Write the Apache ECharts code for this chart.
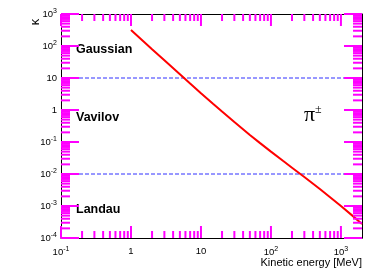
<!DOCTYPE html>
<html><head><meta charset="utf-8">
<script src="https://cdn.jsdelivr.net/npm/echarts@6/dist/echarts.min.js"></script>
<style>html,body{margin:0;padding:0;background:#fff}#c{width:381px;height:274px}</style>
</head><body><div id="c"></div>
<script>
// ---- data ----
const energyMeV = [1, 1.5, 2, 3, 5, 7, 10, 15, 20, 30, 50, 70, 100, 150, 200, 300, 500, 700, 1000, 1500, 2000];
const kappa = [316, 141, 79.5, 35.6, 13.0, 6.72, 3.36, 1.54, 0.892, 0.419, 0.1665, 0.0922, 0.0501, 0.0254, 0.01575, 0.00803, 0.00338, 0.00188, 0.000996, 0.000474, 0.000276];
const boundaryKappa = [10, 0.01];
const xRange = [0.1, 2000];
const yRange = [1e-4, 1e3];
const xTickValues = [0.1, 1, 10, 100, 1000];
const xTickLabels = ['10{s|-1}', '1', '10', '10{s|2}', '10{s|3}'];
const yTickValues = [1e-4, 1e-3, 1e-2, 1e-1, 1, 10, 100, 1000];
const yTickLabels = ['10{s|-4}', '10{s|-3}', '10{s|-2}', '10{s|-1}', '1', '10', '10{s|2}', '10{s|3}'];
const regionLabels = ['Gaussian', 'Vavilov', 'Landau'];
const xTitle = 'Kinetic energy [MeV]';
const yTitle = 'κ';

function minorTicks(range) {
  const out = [];
  for (let e = -5; e <= 4; e++) {
    for (let m = 2; m <= 9; m++) {
      const v = m * Math.pow(10, e);
      if (v > range[0] * 1.0001 && v < range[1] * 0.9999) out.push(v);
    }
  }
  return out;
}
const xMinor = minorTicks(xRange);
const yMinor = minorTicks(yRange);

function lookup(values, labels) {
  return function (v) {
    for (let i = 0; i < values.length; i++) {
      if (Math.abs(Math.log10(v) - Math.log10(values[i])) < 1e-6) return labels[i];
    }
    return '';
  };
}

const FONT = 'Liberation Sans';
const labelRich = { s: { fontSize: 7, fontFamily: FONT, color: '#000', verticalAlign: 'top', padding: [0, 0, 5, 0] } };
const TICK = '#ff00ff';

function xTickSeries(values, len) {
  return {
    type: 'custom', silent: true, z: 5,
    data: values.map(v => [v, yRange[0]]),
    encode: { x: 0, y: 1 },
    renderItem: function (params, api) {
      const v = api.value(0);
      const b = api.coord([v, yRange[0]]);
      const t = api.coord([v, yRange[1]]);
      return { type: 'group', children: [
        { type: 'line', shape: { x1: b[0], y1: b[1], x2: b[0], y2: b[1] - len }, style: { stroke: TICK, lineWidth: 2 } },
        { type: 'line', shape: { x1: t[0], y1: t[1], x2: t[0], y2: t[1] + len }, style: { stroke: TICK, lineWidth: 2 } }
      ] };
    }
  };
}
function yTickSeries(values, len) {
  return {
    type: 'custom', silent: true, z: 5,
    data: values.map(v => [xRange[0], v]),
    encode: { x: 0, y: 1 },
    renderItem: function (params, api) {
      const v = api.value(1);
      const l = api.coord([xRange[0], v]);
      const r = api.coord([xRange[1], v]);
      return { type: 'group', children: [
        { type: 'line', shape: { x1: l[0], y1: l[1], x2: l[0] + len, y2: l[1] }, style: { stroke: TICK, lineWidth: 2 } },
        { type: 'line', shape: { x1: r[0], y1: r[1], x2: r[0] - len, y2: r[1] }, style: { stroke: TICK, lineWidth: 2 } }
      ] };
    }
  };
}

const chart = echarts.init(document.getElementById('c'));

chart.setOption({
  animation: false,
  grid: { left: 61, right: 19, top: 14, bottom: 36 },
  xAxis: [{
    type: 'log', min: xRange[0], max: xRange[1], position: 'bottom',
    name: xTitle, nameLocation: 'end', nameGap: 0,
    nameTextStyle: { fontFamily: FONT, fontSize: 11, color: '#000', align: 'right', verticalAlign: 'top', padding: [19, 0, 0, 0] },
    axisLine: { show: true, lineStyle: { color: '#000', width: 1 } },
    axisTick: { show: false },
    axisLabel: { show: true, margin: 8, fontFamily: FONT, fontSize: 9.5, color: '#000', formatter: lookup(xTickValues, xTickLabels), rich: labelRich, showMaxLabel: false },
    splitLine: { show: false }
  }, {
    type: 'log', min: xRange[0], max: xRange[1], position: 'top',
    axisLine: { show: true, lineStyle: { color: '#000', width: 1 } }, axisTick: { show: false },
    axisLabel: { show: false }, splitLine: { show: false }
  }],
  yAxis: [{
    type: 'log', min: yRange[0], max: yRange[1], position: 'left',
    axisLine: { show: true, lineStyle: { color: '#000', width: 1 } }, axisTick: { show: false },
    axisLabel: { show: true, margin: 4, fontFamily: FONT, fontSize: 9.5, color: '#000', formatter: lookup(yTickValues, yTickLabels), rich: labelRich },
    splitLine: { show: false }
  }, {
    type: 'log', min: yRange[0], max: yRange[1], position: 'right',
    axisLine: { show: true, lineStyle: { color: '#000', width: 1 } }, axisTick: { show: false },
    axisLabel: { show: false }, splitLine: { show: false }
  }],
  graphic: [
    { type: 'text', left: 76, top: 43, style: { text: regionLabels[0], font: 'bold 12.5px "Liberation Sans"', fill: '#000' } },
    { type: 'text', left: 76, top: 111, style: { text: regionLabels[1], font: 'bold 12.5px "Liberation Sans"', fill: '#000' } },
    { type: 'text', left: 76, top: 203, style: { text: regionLabels[2], font: 'bold 12.5px "Liberation Sans"', fill: '#000' } },
    { type: 'text', x: 304, y: 104, style: { text: '{p|π}{s|±}', rich: {
        p: { fontFamily: 'Liberation Serif', fontSize: 22, fill: '#000', verticalAlign: 'bottom' },
        s: { fontFamily: 'Liberation Serif', fontSize: 12, fill: '#000', verticalAlign: 'top' } } } },
    { type: 'text', x: 35, y: 22, rotation: Math.PI / 2, style: { text: yTitle, font: '13px "Liberation Sans"', fill: '#000', align: 'center', verticalAlign: 'middle' } }
  ],
  series: [
    {
      type: 'line', name: 'pi', showSymbol: false, z: 3,
      data: energyMeV.map((e, i) => [e, kappa[i]]),
      lineStyle: { color: '#ff0000', width: 2 }
    },
    xTickSeries(xTickValues, 12),
    xTickSeries(xMinor, 7),
    yTickSeries(yTickValues, 18),
    yTickSeries(yMinor, 9),
    {
      type: 'line', showSymbol: false, z: 2,
      data: [[xRange[0], boundaryKappa[0]], [xRange[1], boundaryKappa[0]]],
      lineStyle: { color: '#3030ff', width: 1, type: [4, 2] }
    },
    {
      type: 'line', showSymbol: false, z: 2,
      data: [[xRange[0], boundaryKappa[1]], [xRange[1], boundaryKappa[1]]],
      lineStyle: { color: '#3030ff', width: 1, type: [4, 2] }
    }
  ]
});
</script>
</body></html>
